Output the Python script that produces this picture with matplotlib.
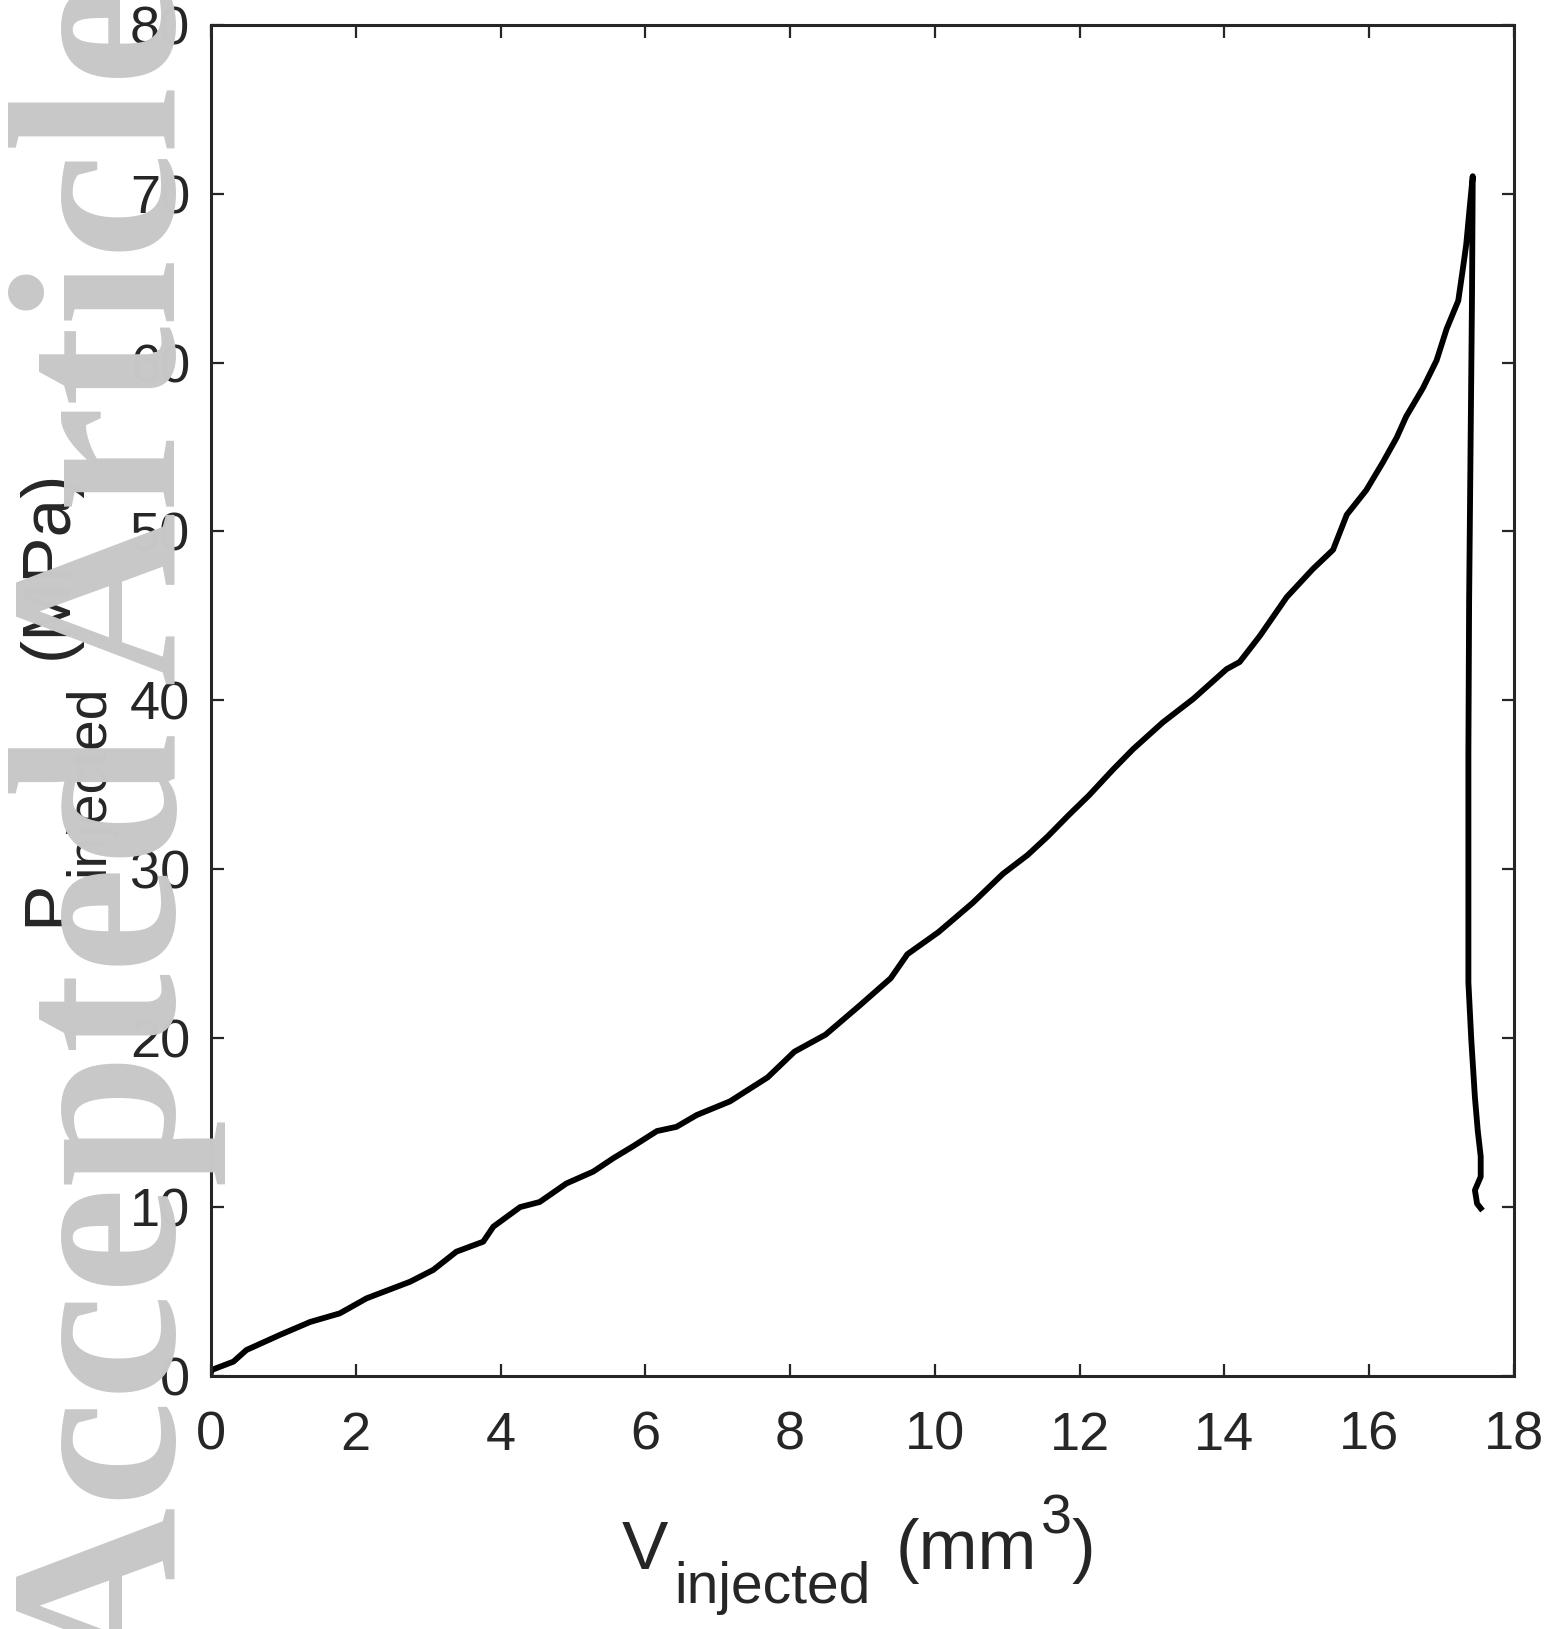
import matplotlib.pyplot as plt

W, H = 1551, 1629
DPI = 100

# loading branch (mm^3, MPa)
V_load = [0.0, 0.01, 0.31, 0.49, 0.95, 1.37, 1.78, 2.15, 2.75, 3.07, 3.39,
          3.76, 3.90, 4.27, 4.54, 4.91, 5.28, 5.56, 5.83, 6.16, 6.43, 6.71,
          7.17, 7.69, 8.06, 8.49, 8.96, 9.39, 9.62, 10.05, 10.52, 10.94, 11.28,
          11.56, 11.84, 12.13, 12.46, 12.74, 13.15, 13.57, 14.03, 14.21,
          14.49, 14.86, 15.22, 15.50, 15.69, 15.96, 16.19, 16.38, 16.51, 16.74,
          16.93, 17.07, 17.23, 17.30, 17.34, 17.39, 17.43]
P_load = [0.2, 0.36, 0.85, 1.54, 2.43, 3.2, 3.71, 4.6, 5.58, 6.28, 7.36,
          7.95, 8.84, 10.0, 10.3, 11.4, 12.1, 12.9, 13.6, 14.5, 14.75, 15.45,
          16.26, 17.68, 19.2, 20.21, 21.93, 23.55, 24.97, 26.28, 28.0, 29.73, 30.84,
          31.95, 33.17, 34.38, 35.9, 37.12, 38.7, 40.09, 41.85, 42.27,
          43.82, 46.11, 47.77, 48.91, 50.99, 52.45, 54.1, 55.56, 56.8, 58.47,
          60.12, 62.0, 63.66, 65.74, 66.98, 69.27, 71.03]

# unloading branch
V_unload = [17.42, 17.40, 17.38, 17.37, 17.37, 17.41, 17.46, 17.50, 17.54,
            17.54, 17.46, 17.49, 17.54]
P_unload = [64.0, 55.0, 45.9, 36.9, 23.3, 19.9, 16.5, 14.5, 13.0,
            11.8, 11.0, 10.2, 9.93]

x_ticks = list(range(0, 19, 2))
y_ticks = list(range(0, 81, 10))

INK = "#262626"
plt.rcParams["font.family"] = ["Liberation Sans", "DejaVu Sans"]


def fx(px):
    return px / W


def fy(py):
    return 1 - py / H


fig = plt.figure(figsize=(W / DPI, H / DPI), dpi=DPI)
ax = fig.add_axes([fx(211), fy(1376), fx(1514) - fx(211), fy(24.7) - fy(1376)])

ax.plot(V_load + V_unload, P_load + P_unload, color="black", lw=4.2,
        solid_joinstyle="round")

ax.set_xlim(0, 18)
ax.set_ylim(0, 80)
ax.set_xticks(x_ticks)
ax.set_yticks(y_ticks)
for s in ax.spines.values():
    s.set_linewidth(2.2)
    s.set_color(INK)
ax.tick_params(direction="in", length=9, width=1.6, color=INK,
               labelcolor=INK, labelsize=39, top=True, right=True)
ax.tick_params(axis="x", pad=25)
ax.tick_params(axis="y", pad=15)

# axis labels built from pieces so the sub/superscripts sit like the original
txt = dict(color=INK, ha="left", va="baseline", zorder=5)
fig.text(fx(622), fy(1569), "V", fontsize=50, **txt)
fig.text(fx(674), fy(1603), "injected", fontsize=41, **txt)
fig.text(fx(896), fy(1569), "(mm", fontsize=51, **txt)
fig.text(fx(1041), fy(1534), "3", fontsize=40, **txt)
fig.text(fx(1072), fy(1569), ")", fontsize=51, **txt)

rot = dict(rotation=90, rotation_mode="anchor", **txt)
fig.text(fx(67), fy(926), "P", fontsize=50, **rot)
fig.text(fx(103), fy(876), "injected", fontsize=40, **rot)
fig.text(fx(67), fy(659), "(MPa)", fontsize=50, **rot)

# watermark sits on top of everything
fig.text(fx(175), fy(1680), "Accepted Article", rotation=90,
         rotation_mode="anchor", ha="left", va="baseline", fontsize=173,
         family="Liberation Serif", weight="bold", color="#c8c8c8", zorder=20)

fig.savefig("out.png", dpi=DPI)
